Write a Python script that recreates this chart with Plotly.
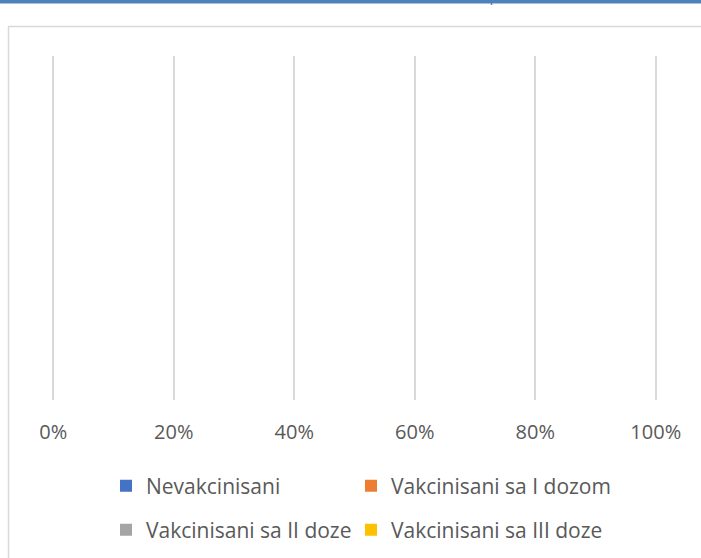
import plotly.graph_objects as go

categories = [""]
series_names = ["Nevakcinisani", "Vakcinisani sa I dozom", "Vakcinisani sa II doze", "Vakcinisani sa III doze"]
series_values = [[None], [None], [None], [None]]
series_colors = ["#4472C4", "#ED7D31", "#A5A5A5", "#FFC000"]
tick_vals = [0, 0.2, 0.4, 0.6, 0.8, 1.0]
tick_text = ["0%", "20%", "40%", "60%", "80%", "100%"]

W, H = 701, 558
L, R, T, B = 52, 657, 56, 400

def px(x):
    return (x - L) / (R - L)

def py(y):
    return (B - y) / (B - T)

legend_ids = ["legend", "legend2", "legend3", "legend4"]
legend_pos = [(106, 486), (351, 486), (106, 530), (351, 530)]

fig = go.Figure()
for name, vals, col, lg in zip(series_names, series_values, series_colors, legend_ids):
    fig.add_trace(go.Bar(y=categories, x=vals, name=name, orientation="h",
                         marker=dict(color=col, line=dict(width=0)), legend=lg))

leg_common = dict(orientation="h", xanchor="left", yanchor="middle",
                  font=dict(size=21, color="#595959"), bgcolor="rgba(0,0,0,0)")
legends = {lg: dict(x=px(x), y=py(y), **leg_common) for lg, (x, y) in zip(legend_ids, legend_pos)}

fig.update_layout(
    width=W, height=H,
    margin=dict(l=L, r=W - R, t=T, b=H - B, pad=0, autoexpand=False),
    barmode="stack",
    paper_bgcolor="white", plot_bgcolor="white",
    font=dict(family="Open Sans, Liberation Sans, sans-serif", size=20, color="#595959"),
    showlegend=True,
    xaxis=dict(range=[-0.002, 1.002], tickvals=tick_vals, ticktext=tick_text,
               showgrid=True, gridcolor="#d9d9d9", gridwidth=2,
               zeroline=False, showline=False, ticks="", ticklabelstandoff=18,
               tickfont=dict(size=20, color="#595959"), fixedrange=True),
    yaxis=dict(showgrid=False, zeroline=False, showline=False, showticklabels=False,
               ticks="", fixedrange=True),
    shapes=[
        dict(type="line", xref="paper", yref="paper", x0=px(0), x1=px(701), y0=py(1.75), y1=py(1.75),
             line=dict(color="#4f81bd", width=3.5)),
        dict(type="line", xref="paper", yref="paper", x0=px(491.5), x1=px(491.5), y0=py(0), y1=py(5),
             line=dict(color="#4f81bd", width=1.5)),
        dict(type="line", xref="paper", yref="paper", x0=px(8), x1=px(705), y0=py(26.5), y1=py(26.5),
             line=dict(color="#d9d9d9", width=1.5)),
        dict(type="line", xref="paper", yref="paper", x0=px(8.5), x1=px(8.5), y0=py(26), y1=py(562),
             line=dict(color="#d9d9d9", width=1.5)),
    ],
    **legends,
)

fig.write_html("out.html", config={"displayModeBar": False},
               post_script="document.body.style.margin='0';")
